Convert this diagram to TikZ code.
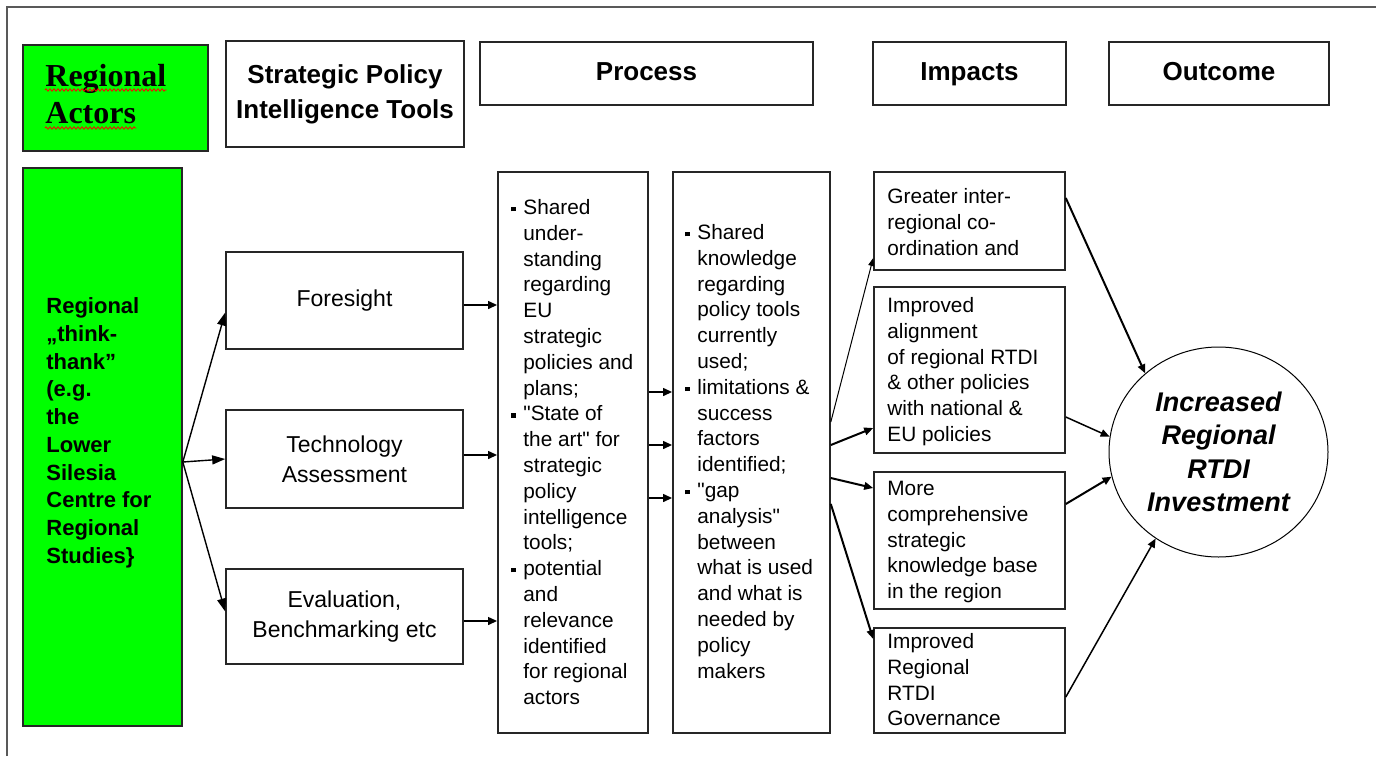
\documentclass[tikz,border=0pt]{standalone}
\usepackage{fontspec}
\setmainfont{Liberation Sans}[Ligatures=TeXOff]
\newfontfamily\timesfont{Liberation Serif}
\usepackage{tikz}
\usetikzlibrary{arrows.meta,shapes.geometric,decorations.pathmorphing}
\definecolor{actgreen}{RGB}{0,255,0}
\newcommand{\sq}{\makebox[6pt][l]{\rule[1.6pt]{2.2pt}{2.2pt}}}
\newcommand{\ind}{\hspace*{6pt}}

\begin{document}
\begin{tikzpicture}[x=0.5pt, y=-0.5pt,
		font=\fontsize{10.4}{12.9}\selectfont,
		box/.style={draw=black!85, line width=0.8pt, inner sep=0pt},
		head/.style={box, minimum height=31.5pt, align=center, font=\fontsize{13}{17.5}\selectfont\bfseries},
		onehead/.style={head, text height=9.4pt, text depth=2.8pt},
		tool/.style={box, minimum width=118.5pt, align=center, font=\fontsize{11.5}{15}\selectfont},
		txt/.style={anchor=north west, inner sep=0pt, align=left},
		bigarr/.style={-{Triangle[length=6.5pt,width=4.5pt]}, line width=0.7pt},
		arr/.style={-{Triangle[length=4.5pt,width=3.8pt]}, line width=1pt},
		midarr/.style={-{Triangle[length=4.5pt,width=3.8pt]}, line width=0.75pt},
		thinarr/.style={-{Triangle[length=4pt,width=3pt]}, line width=0.5pt},
		spell/.style={red, line width=0.4pt, decorate, decoration={zigzag, amplitude=0.6pt, segment length=2pt}}]
		\useasboundingbox (0,0) rectangle (1376,756);
		% frame
		\draw[line width=1pt, color=black!65] (7,756) -- (7,6.5) -- (1376,6.5);
		
		% header row
		\node[box, fill=actgreen, minimum width=92.5pt, minimum height=53pt] (ra) at (115.5,98) {};
		\node[anchor=base west, inner sep=0pt, font=\timesfont\bfseries\fontsize{16}{18.5}\selectfont] (ra1) at (45,86) {Regional};
		\node[anchor=base west, inner sep=0pt, font=\timesfont\bfseries\fontsize{16}{18.5}\selectfont] (ra2) at (45,123) {Actors};
		\draw[spell] ([yshift=-2pt]ra1.base west) -- ([yshift=-2pt]ra1.base east);
		\draw[spell] ([yshift=-2.5pt]ra2.base west) -- ([yshift=-2.5pt]ra2.base east);
		\node[head, minimum width=119pt, minimum height=53pt] (spit) at (345,94) {Strategic Policy\\Intelligence Tools};
		\node[onehead, minimum width=166.5pt] (proc) at (646.5,73.5) {Process};
		\node[onehead, minimum width=96.5pt] (imph) at (969.5,73.5) {Impacts};
		\node[onehead, minimum width=110pt] (outh) at (1219,73.5) {Outcome};
		
		% actors and tools
		\node[box, fill=actgreen, minimum width=79.5pt, minimum height=279pt] (actors) at (102.5,447) {};
		\node[txt, font=\fontsize{11}{13.85}\selectfont\bfseries] (actorstxt) at (46,294)
		{\strut Regional\\„think-\\thank”\\(e.g.\\the\\Lower\\Silesia\\Centre for\\Regional\\Studies\}};
		\node[tool, minimum height=48.5pt] (fore) at (344.5,300.5) {Foresight};
		\node[tool, minimum height=49pt] (tech) at (344.5,459) {Technology\\Assessment};
		\node[tool, minimum height=47.5pt] (eval) at (344.5,616.5) {Evaluation,\\Benchmarking etc};
		
		% process
		\node[box, minimum width=75pt, minimum height=280.5pt] (pb1) at (573,452.5) {};
		\node[txt] (pb1txt) at (511,196)
		{\strut\sq Shared\\ \ind under-\\ \ind standing\\ \ind regarding\\ \ind EU\\ \ind strategic\\ \ind policies and\\ \ind plans;\\
			\sq "State of\\ \ind the art" for\\ \ind strategic\\ \ind policy\\ \ind intelligence\\ \ind tools;\\
			\sq potential\\ \ind and\\ \ind relevance\\ \ind identified\\ \ind for regional\\ \ind actors};
		\node[box, minimum width=78.5pt, minimum height=280.5pt] (pb2) at (751.5,452.5) {};
		\node[txt] (pb2txt) at (685,221)
		{\strut\sq Shared\\ \ind knowledge\\ \ind regarding\\ \ind policy tools\\ \ind currently\\ \ind used;\\
			\sq limitations \&\\ \ind success\\ \ind factors\\ \ind identified;\\
			\sq "gap\\ \ind analysis"\\ \ind between\\ \ind what is used\\ \ind and what is\\ \ind needed by\\ \ind policy\\ \ind makers};
		
		% impacts
		\node[box, minimum width=95.5pt, minimum height=49pt] (imp1) at (969.5,221) {};
		\node[txt] (imp1txt) at (887,185) {\strut Greater inter-\\regional co-\\ordination and};
		\node[box, minimum width=95.5pt, minimum height=83pt] (imp2) at (969.5,370) {};
		\node[txt] (imp2txt) at (887,294) {\strut Improved\\alignment\\of regional RTDI\\\& other policies\\with national \&\\EU policies};
		\node[box, minimum width=95.5pt, minimum height=68.5pt] (imp3) at (969.5,540.5) {};
		\node[txt] (imp3txt) at (887,477) {\strut More\\comprehensive\\strategic\\knowledge base\\in the region};
		\node[box, minimum width=95.5pt, minimum height=52.5pt] (imp4) at (969.5,680.5) {};
		\node[txt] (imp4txt) at (887,630) {\strut Improved\\Regional\\RTDI\\Governance};
		
		% outcome
		\node[ellipse, draw, line width=0.5pt, inner sep=0pt, minimum width=109.5pt, minimum height=105pt,
		align=center, font=\fontsize{13.5}{16.7}\selectfont\bfseries\itshape] (outc) at (1218.5,452)
		{Increased\\Regional\\RTDI\\Investment};
		
		% connectors
		\coordinate (fork) at ([yshift=-7.5pt]actors.east);
		\draw[bigarr] (fork) -- ([yshift=-6pt]fore.west);
		\draw[bigarr] (fork) -- (tech.west);
		\draw[bigarr] (fork) -- ([yshift=2.5pt]eval.west);
		\draw[arr] (fore.east |- 0,305) -- (pb1.west |- 0,305);
		\draw[arr] (tech.east |- 0,455) -- (pb1.west |- 0,455);
		\draw[arr] (eval.east |- 0,621) -- (pb1.west |- 0,621);
		\draw[arr] (pb1.east |- 0,392) -- (pb2.west |- 0,392);
		\draw[arr] (pb1.east |- 0,445) -- (pb2.west |- 0,445);
		\draw[arr] (pb1.east |- 0,498) -- (pb2.west |- 0,498);
		\draw[thinarr] (pb2.east |- 0,422) -- (imp1.west |- 0,258);
		\draw[arr] (pb2.east |- 0,445) -- (imp2.west |- 0,428);
		\draw[arr] (pb2.east |- 0,478) -- (imp3.west |- 0,488);
		\draw[arr] (pb2.east |- 0,504) -- (imp4.west |- 0,639);
		\draw[arr] (imp1.east |- 0,198) -- (outc.133);
		\draw[midarr] (imp2.east |- 0,417) -- (outc.172);
		\draw[arr] (imp3.east |- 0,504) -- (outc.193);
		\draw[midarr] (imp4.east |- 0,697) -- (outc.234);
		
\end{tikzpicture}
\end{document}
